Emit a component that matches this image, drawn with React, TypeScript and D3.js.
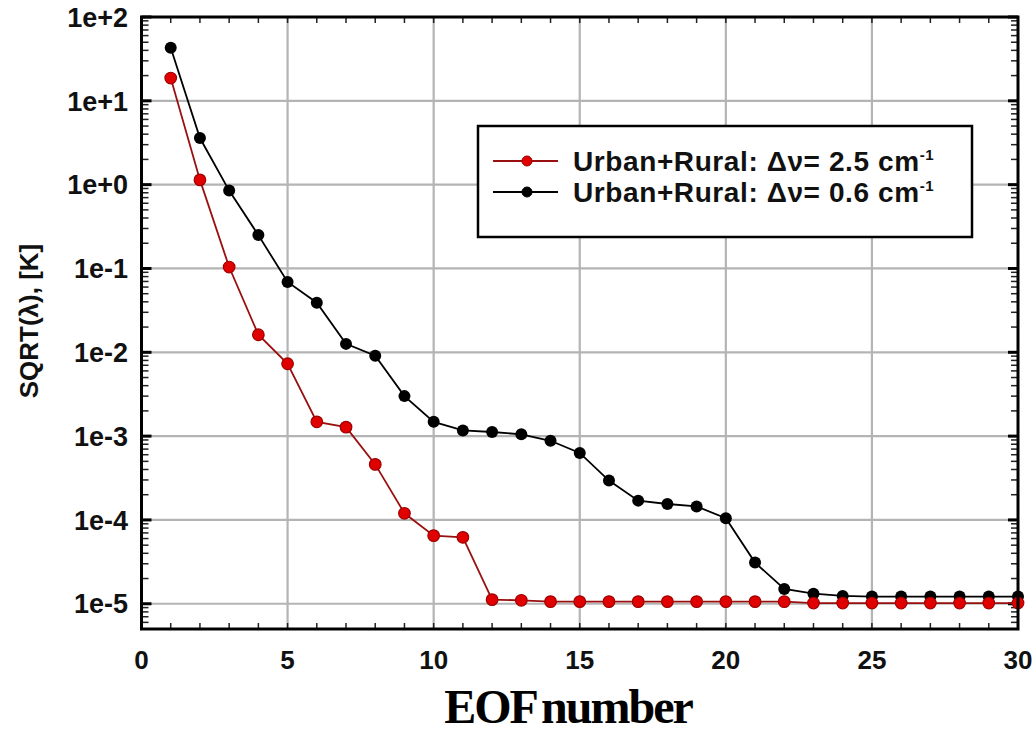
import React from "react";
import * as d3 from "d3";

const eofNumbers = d3.range(1, 31);
const series25 = [
  18.7, 1.14, 0.104, 0.0162, 0.0073, 0.00148, 0.00128, 0.00046, 0.00012, 6.5e-5,
  6.2e-5, 1.12e-5, 1.1e-5, 1.06e-5, 1.06e-5, 1.06e-5, 1.06e-5, 1.06e-5, 1.06e-5, 1.06e-5,
  1.06e-5, 1.06e-5, 1.02e-5, 1.02e-5, 1.02e-5, 1.02e-5, 1.02e-5, 1.02e-5, 1.02e-5, 1.02e-5,
];
const series06 = [
  43, 3.6, 0.85, 0.25, 0.069, 0.039, 0.0126, 0.0091, 0.003, 0.00148,
  0.00117, 0.00112, 0.00105, 0.00088, 0.00063, 0.000295, 0.00017, 0.000155, 0.000145, 0.000105,
  3.1e-5, 1.5e-5, 1.32e-5, 1.24e-5, 1.22e-5, 1.22e-5, 1.22e-5, 1.22e-5, 1.22e-5, 1.22e-5,
];
const xTicks = [0, 5, 10, 15, 20, 25, 30];
const yTicks = [1e2, 1e1, 1e0, 1e-1, 1e-2, 1e-3, 1e-4, 1e-5];
const yTickLabels = ["1e+2", "1e+1", "1e+0", "1e-1", "1e-2", "1e-3", "1e-4", "1e-5"];
const legendLabels = ["Urban+Rural: \u0394\u03bd= 2.5 cm", "Urban+Rural: \u0394\u03bd= 0.6 cm"];

const W = 1036, H = 732;
const left = 141.5, right = 1018, top = 17, bottom = 629;

export default function App() {
  const x = d3.scaleLinear().domain([0, 30]).range([left, right]);
  const y = d3.scaleLog().domain([5e-6, 100]).range([bottom, top]);

  const minorY: number[] = [];
  for (let e = -6; e <= 1; e++) {
    for (let m = 2; m <= 9; m++) {
      const v = m * Math.pow(10, e);
      if (v >= 5e-6 && v <= 100) minorY.push(v);
    }
  }
  const minorX = d3.range(1, 30);

  const line = d3
    .line<number>()
    .x((_, i) => x(eofNumbers[i]))
    .y((d) => y(d));

  const font = "'Liberation Sans', Arial, sans-serif";
  const gridColor = "#b4b4b4";
  const redLine = "#9a1010";
  const redFill = "#e00000";

  const legendSeries = [
    { label: legendLabels[0], stroke: redLine, fill: redFill, mstroke: "#a00000" },
    { label: legendLabels[1], stroke: "#000", fill: "#000", mstroke: "#000" },
  ];

  return (
    <svg
      width={W}
      height={H}
      style={{ position: "absolute", left: 0, top: 0, background: "#fff" }}
    >
      {/* grid */}
      {xTicks.slice(1, -1).map((t) => (
        <line key={"gx" + t} x1={x(t)} x2={x(t)} y1={top} y2={bottom} stroke={gridColor} strokeWidth={2.2} />
      ))}
      {yTicks.slice(1).map((t) => (
        <line key={"gy" + t} x1={left} x2={right} y1={y(t)} y2={y(t)} stroke={gridColor} strokeWidth={2.2} />
      ))}

      {/* ticks */}
      {minorY.map((v) => (
        <g key={"my" + v}>
          <line x1={left} x2={left + 7} y1={y(v)} y2={y(v)} stroke="#222" strokeWidth={1.5} />
          <line x1={right} x2={right - 7} y1={y(v)} y2={y(v)} stroke="#222" strokeWidth={1.5} />
        </g>
      ))}
      {yTicks.map((v) => (
        <g key={"My" + v}>
          <line x1={left} x2={left + 10} y1={y(v)} y2={y(v)} stroke="#000" strokeWidth={3} />
          <line x1={right} x2={right - 10} y1={y(v)} y2={y(v)} stroke="#000" strokeWidth={3} />
        </g>
      ))}
      {minorX.map((v) => (
        <g key={"mx" + v}>
          <line x1={x(v)} x2={x(v)} y1={bottom} y2={bottom - 6} stroke="#222" strokeWidth={1.5} />
          <line x1={x(v)} x2={x(v)} y1={top} y2={top + 6} stroke="#222" strokeWidth={1.5} />
        </g>
      ))}

      {/* series */}
      <path d={line(series25) || ""} fill="none" stroke={redLine} strokeWidth={1.8} />
      <path d={line(series06) || ""} fill="none" stroke="#000" strokeWidth={1.8} />
      {series06.map((v, i) => (
        <circle key={"b" + i} cx={x(eofNumbers[i])} cy={y(v)} r={6} fill="#000" />
      ))}
      {series25.map((v, i) => (
        <circle key={"r" + i} cx={x(eofNumbers[i])} cy={y(v)} r={5.8} fill={redFill} stroke="#a00000" strokeWidth={1.2} />
      ))}

      {/* frame */}
      <rect x={left} y={top} width={right - left} height={bottom - top} fill="none" stroke="#000" strokeWidth={3} />

      {/* y tick labels */}
      {yTicks.map((v, i) => (
        <text key={"yl" + v} x={128} y={y(v)} dy="0.36em" textAnchor="end" fontFamily={font} fontWeight="bold" fontSize={27} fill="#111">
          {yTickLabels[i]}
        </text>
      ))}
      {/* x tick labels */}
      {xTicks.map((v) => (
        <text key={"xl" + v} x={x(v)} y={669} textAnchor="middle" fontFamily={font} fontWeight="bold" fontSize={26} fill="#111">
          {v}
        </text>
      ))}

      {/* axis titles */}
      <text
        transform={`translate(38, 321) rotate(-90)`}
        textAnchor="middle"
        fontFamily={font}
        fontWeight="bold"
        fontSize={26}
        fill="#111"
      >
        SQRT(λ), [K]
      </text>
      <text x={568} y={723} textAnchor="middle" fontFamily="'Liberation Serif', 'Times New Roman', serif" fontWeight="bold" fontSize={48} fill="#000" letterSpacing={-2} wordSpacing={-4}>
        EOF number
      </text>

      {/* legend */}
      <rect x={478} y={126} width={494} height={111} fill="#fff" stroke="#000" strokeWidth={2.5} />
      {legendSeries.map((s, i) => {
        const ly = 161 + i * 31;
        return (
          <g key={"lg" + i}>
            <line x1={493} x2={558} y1={ly} y2={ly} stroke={s.stroke} strokeWidth={1.8} />
            <circle cx={527} cy={ly} r={5} fill={s.fill} stroke={s.mstroke} strokeWidth={1} />
            <text x={573} y={ly} dy="0.36em" fontFamily={font} fontWeight="bold" fontSize={28} letterSpacing={0.6} fill="#111">
              {s.label}
              <tspan dy={-11} fontSize={15}>-1</tspan>
            </text>
          </g>
        );
      })}
    </svg>
  );
}
